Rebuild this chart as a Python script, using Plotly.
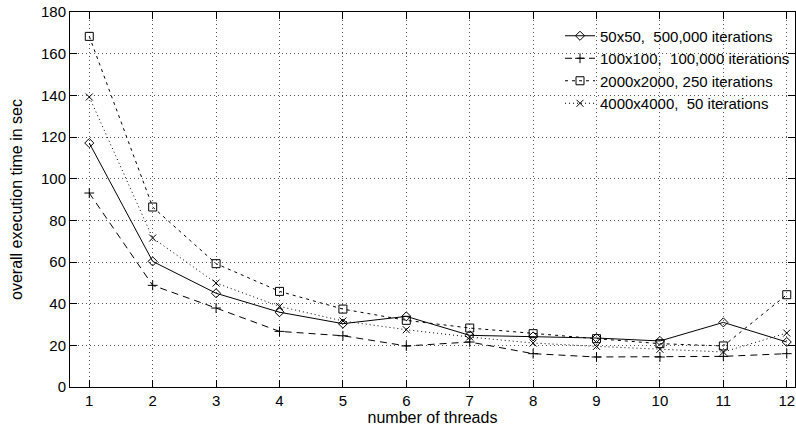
import plotly.graph_objects as go

threads = [1, 2, 3, 4, 5, 6, 7, 8, 9, 10, 11, 12]
names = ["50x50,\u00a0\u00a0500,000 iterations", "100x100,\u00a0\u00a0100,000 iterations",
         "2000x2000, 250 iterations", "4000x4000,\u00a0\u00a050 iterations"]
s_50 = [117.1, 60.3, 45.0, 35.9, 30.4, 33.9, 24.8, 24.3, 23.5, 22.1, 31.0, 21.6]
s_100 = [93.1, 48.8, 37.9, 26.7, 24.6, 19.7, 21.6, 16.0, 14.4, 14.4, 14.7, 16.0]
s_2000 = [168.3, 86.4, 59.2, 45.9, 37.4, 32.0, 28.3, 25.6, 23.2, 20.8, 19.7, 44.3]
s_4000 = [139.2, 71.5, 49.9, 38.7, 31.7, 27.5, 24.0, 21.1, 19.5, 18.1, 16.8, 25.9]
y_ticks = [0, 20, 40, 60, 80, 100, 120, 140, 160, 180]

series = [s_50, s_100, s_2000, s_4000]
symbols = ["diamond-open", "cross-thin-open", "square-open", "x-thin-open"]
dashes = ["solid", "7px,5px", "3px,4px", "1px,3px"]
msizes = [7, 7, 8, 7]

FONT = "Liberation Sans, Arial, sans-serif"

fig = go.Figure()
for name, ys, sym, dash, ms in zip(names, series, symbols, dashes, msizes):
    fig.add_trace(go.Scatter(
        x=threads, y=ys, name=name, mode="lines+markers",
        line=dict(color="black", width=1, dash=dash),
        marker=dict(symbol=sym, size=ms, color="black",
                    line=dict(color="black", width=1)),
    ))

axis_common = dict(
    showline=True, linecolor="black", linewidth=1, mirror="allticks",
    ticks="inside", ticklen=7, tickcolor="black", tickwidth=1,
    showgrid=True, gridcolor="#555", griddash="1px,3px", gridwidth=1,
    zeroline=False, automargin=False,
    tickfont=dict(family=FONT, size=15, color="black"),
)

fig.update_xaxes(range=[0.696, 12.13], tickvals=threads,
                 title=dict(text="number of threads", standoff=3,
                            font=dict(family=FONT, size=16, color="black")),
                 **axis_common)
fig.update_yaxes(range=[0, 180], tickvals=y_ticks,
                 title=dict(text="overall execution time in sec", standoff=14,
                            font=dict(family=FONT, size=16, color="black")),
                 **axis_common)

fig.update_layout(
    width=796, height=428,
    margin=dict(l=70, r=1, t=12, b=41, pad=0),
    paper_bgcolor="white", plot_bgcolor="white",
    font=dict(family=FONT, size=14, color="black"),
    showlegend=True,
    legend=dict(x=1.0, y=0.98, xanchor="right", yanchor="top",
                bgcolor="rgba(0,0,0,0)", borderwidth=0,
                font=dict(family=FONT, size=15, color="black"),
                tracegroupgap=0, itemwidth=30),
)

fig.write_html("out.html", config={"displayModeBar": False},
               post_script="document.body.style.margin='0';document.body.style.overflow='hidden';")
